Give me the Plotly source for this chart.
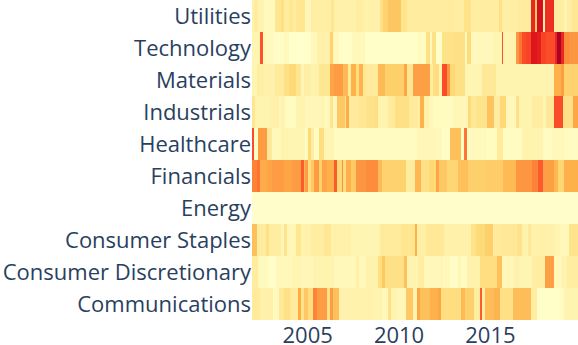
import pandas as pd
import plotly.graph_objects as go

# each sector is a list of (last month index, colour value) runs
UTILITIES = [(1, .09), (4, .13), (8, .08), (15, .04), (19, .17), (21, .2), (24, .13), (27, .16), (29, .12), (35, .17),
             (39, .06), (52, .11), (54, .17), (68, .1), (72, .12), (84, .1), (86, .2), (89, .27), (98, .31), (102, .18),
             (108, .13), (116, .13), (128, .13), (131, .14), (139, .12), (144, .19), (162, .12), (164, .2), (174, .11),
             (177, .13), (183, .13), (186, .72), (187, .3), (191, .8), (192, .1), (198, .7), (205, .12), (207, .07),
             (210, .12), (214, .16)]
TECHNOLOGY = [(5, .07), (7, .62), (8, .03), (10, .06), (14, .04), (21, .02), (24, .04), (39, 0), (43, .05), (51, .1),
              (53, .27), (57, .05), (66, .01), (74, .05), (108, .01), (114, .03), (117, .2), (118, .04), (121, .2),
              (125, .01), (132, .19), (140, .2), (141, .04), (144, .23), (148, .04), (158, .05), (164, .07), (165, .62),
              (173, .08), (175, .47), (177, .55), (180, .63), (183, .65), (187, .77), (190, .74), (193, .65), (199, .63),
              (200, .72), (203, .9), (205, .72), (208, .5), (214, .47)]
MATERIALS = [(3, .07), (8, .11), (15, .1), (21, .14), (24, .2), (29, .25), (32, .17), (34, .06), (39, .11), (44, .09),
             (51, .17), (54, .42), (60, .45), (63, .35), (65, .14), (68, .38), (70, .22), (73, .37), (75, .17), (83, .14),
             (87, .35), (100, .28), (102, .42), (106, .17), (117, .44), (119, .12), (123, .22), (125, .08), (128, .63),
             (130, .47), (133, .25), (140, .2), (151, .07), (160, .15), (198, .08), (203, .38), (205, .45), (214, .27)]
INDUSTRIALS = [(2, .17), (12, .08), (18, .1), (19, .06), (22, .08), (29, .03), (35, .08), (45, .06), (47, .08), (51, .05),
               (53, .18), (56, .06), (61, .3), (62, .2), (64, .4), (70, .14), (75, .16), (81, .19), (83, .22), (89, .08),
               (94, .14), (103, .2), (108, .14), (110, .12), (113, .38), (116, .1), (119, .06), (132, .03), (142, .06),
               (144, .24), (147, .15), (154, .18), (159, .32), (163, .12), (167, .25), (173, .05), (175, .2), (184, .08),
               (191, .12), (193, .07), (198, .15), (204, .63), (211, .2), (214, .42)]
HEALTHCARE = [(1, .63), (4, .02), (10, .45), (13, .15), (19, .05), (24, .08), (35, .07), (37, .03), (39, .25), (41, .12),
              (44, .03), (47, .22), (54, .07), (108, .03), (121, .06), (125, .05), (130, .02), (137, .33), (139, .02),
              (141, .55), (143, .02), (154, .04), (155, .01), (161, .03), (165, .14), (177, .03), (191, .08), (197, .03),
              (205, .05), (214, .03)]
FINANCIALS = [(3, .52), (5, .55), (10, .4), (13, .42), (21, .45), (26, .42), (32, .45), (34, .6), (35, .35), (37, .45),
              (39, .22), (41, .3), (44, .45), (46, .28), (49, .42), (54, .38), (56, .6), (59, .25), (60, .5), (62, .22),
              (65, .38), (68, .3), (75, .47), (83, .5), (85, .35), (101, .27), (107, .13), (111, .36), (116, .2), (121, .25),
              (123, .42), (128, .3), (135, .26), (142, .33), (154, .28), (165, .29), (173, .35), (184, .47), (188, .52),
              (191, .6), (198, .44), (201, .36), (205, .26), (214, .38)]
ENERGY = [(214, .005)]
STAPLES = [(3, .33), (9, .13), (11, .2), (14, .13), (19, .12), (21, .06), (23, .18), (29, .06), (32, .17), (39, .09),
           (47, .12), (52, .16), (65, .1), (84, .07), (98, .14), (107, .17), (108, .38), (114, .11), (126, .15), (144, .1),
           (147, .19), (153, .24), (158, .28), (164, .14), (174, .15), (177, .19), (181, .09), (183, .15), (198, .1),
           (202, .07), (208, .05), (214, .18)]
DISCRETIONARY = [(4, .13), (10, .04), (16, .01), (26, .05), (32, .07), (40, .06), (54, .08), (68, .05), (70, .1), (75, .05),
                 (83, .09), (85, .22), (87, .3), (100, .2), (102, .33), (109, .08), (113, .12), (124, .05), (125, .1),
                 (130, .05), (135, .02), (137, .06), (141, .03), (150, .09), (161, .22), (164, .33), (172, .06), (175, .09),
                 (184, .07), (192, .12), (198, .44), (203, .05), (207, .08), (214, .12)]
COMMUNICATIONS = [(5, .14), (14, .1), (18, .04), (21, .15), (25, .2), (30, .14), (32, .4), (34, .18), (37, .3), (40, .22),
                  (43, .52), (49, .45), (51, .2), (53, .45), (57, .33), (79, .09), (85, .08), (89, .05), (91, .2), (95, .08),
                  (101, .06), (106, .3), (108, .08), (110, .42), (117, .33), (122, .38), (124, .42), (137, .22), (140, .35),
                  (146, .28), (150, .12), (151, .6), (153, .12), (159, .34), (163, .37), (171, .2), (183, .34), (187, .12),
                  (202, .01), (205, .03), (214, .08)]

SECTORS = ['Communications', 'Consumer Discretionary', 'Consumer Staples', 'Energy', 'Financials',
           'Healthcare', 'Industrials', 'Materials', 'Technology', 'Utilities']
YEAR_TICKS = ['2005-01-01', '2010-01-01', '2015-01-01']
YEAR_LABELS = ['2005', '2010', '2015']
YLORRD = ['#ffffcc', '#ffeda0', '#fed976', '#feb24c', '#fd8d3c', '#fc4e2a', '#e31a1c', '#bd0026', '#800026']


def expand(runs):
    values = []
    for end, value in runs:
        values += [value] * (end - len(values))
    return values


months = pd.date_range('2002-01-01', periods=214, freq='MS')
rows = [COMMUNICATIONS, DISCRETIONARY, STAPLES, ENERGY, FINANCIALS,
        HEALTHCARE, INDUSTRIALS, MATERIALS, TECHNOLOGY, UTILITIES]

fig = go.Figure(go.Heatmap(
    x=months,
    y=SECTORS,
    z=[expand(r) for r in rows],
    zmin=0,
    zmax=1,
    colorscale=YLORRD,
    showscale=False
))

fig.update_layout(
    width=578,
    height=345,
    margin=dict(l=252, r=0, t=0, b=25),
    font=dict(family='Open Sans', size=22, color='#2a3f5f'),
    plot_bgcolor='white'
)
fig.update_xaxes(tickvals=YEAR_TICKS, ticktext=YEAR_LABELS, showgrid=False, zeroline=False, automargin=False)
fig.update_yaxes(showgrid=False, zeroline=False, automargin=False)

# page margin would push the plot 8px off the corner
fig.write_html("out.html", post_script="document.body.style.margin = '0';", config=dict(displayModeBar=False))
